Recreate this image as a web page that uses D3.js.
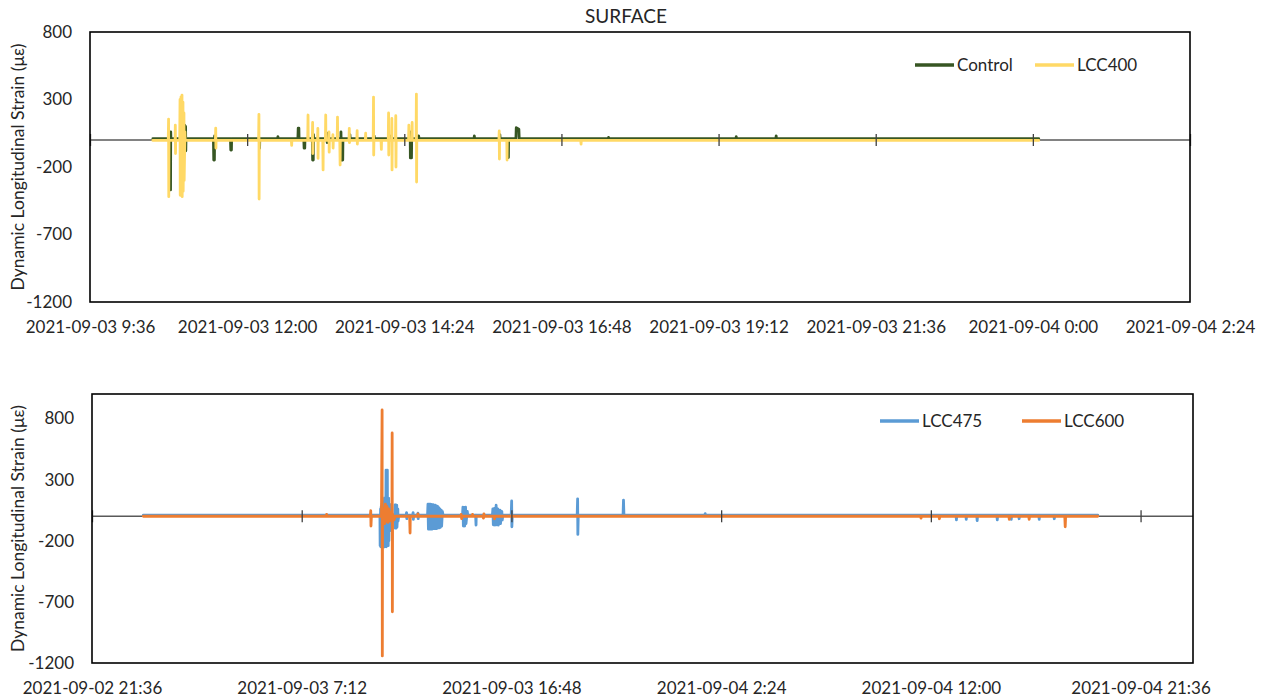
<!DOCTYPE html>
<html>
<head>
<meta charset="utf-8">
<script src="https://cdnjs.cloudflare.com/ajax/libs/d3/7.8.5/d3.min.js"></script>
<style>
    body { margin: 0; background: #fff; }
    text { font-family: Lato, "Open Sans", sans-serif; fill: #262626; }
</style>
</head>
<body>
<div id="chart-area"></div>
<script>
// time = hours after 2021-09-03 00:00, value = strain in µε

var controlData = [
    [10.56, 10], [10.825, 10], [10.83, -370], [10.833, 60], [10.836, 10],
    [11.04, 10], [11.045, 110], [11.048, -90], [11.06, 100], [11.063, -80], [11.066, 10],
    [11.485, 10], [11.49, -148], [11.50, -148], [11.503, 30], [11.506, 10],
    [11.745, 10], [11.75, -74], [11.76, -74], [11.763, 10],
    [12.185, 10], [12.19, -60], [12.193, 10],
    [12.465, 10], [12.47, 25], [12.473, 10],
    [12.775, 10], [12.78, 88], [12.79, 88], [12.793, 10],
    [12.865, 10], [12.87, -60], [12.88, -60], [12.883, 10],
    [12.995, 10], [13.00, -148], [13.01, -148], [13.013, 40], [13.016, 10],
    [13.215, 10], [13.22, 50], [13.223, -20], [13.226, 10],
    [13.425, 10], [13.43, -148], [13.433, 60], [13.44, -148], [13.46, -148], [13.463, 10],
    [13.565, 10], [13.57, 40], [13.573, 10],
    [13.935, 10], [13.94, 30], [13.943, 10],
    [14.175, 10], [14.18, 30], [14.183, 10],
    [14.485, 10], [14.49, 60], [14.493, -133], [14.51, -133], [14.513, 10],
    [14.615, 10], [14.62, 30], [14.623, 10],
    [15.465, 10], [15.47, 30], [15.473, 10],
    [15.855, 10], [15.86, 40], [15.863, 10],
    [15.975, 10], [15.98, -130], [15.99, -130], [15.993, 10],
    [16.105, 10], [16.11, 91], [16.15, 80], [16.155, 10],
    [17.515, 10], [17.52, 20], [17.523, 10],
    [19.465, 10], [19.47, 25], [19.473, 10],
    [20.075, 10], [20.08, 30], [20.083, 10],
    [24.09, 10]
];

var lcc400Data = [
    [10.56, -3], [10.795, -3], [10.80, 155], [10.803, -420], [10.806, -3],
    [10.90, -3], [10.903, 110], [10.906, -100], [10.909, -3],
    [10.97, -3], [10.975, 300], [10.978, -410], [10.99, 320], [10.993, -400],
    [11.005, 333], [11.008, -420], [11.02, 280], [11.023, -380], [11.035, 200],
    [11.038, -300], [11.05, 60], [11.053, -3],
    [11.515, -3], [11.52, 88], [11.523, -60], [11.526, -3],
    [12.175, -3], [12.18, 190], [12.183, -437], [12.186, -3],
    [12.675, -3], [12.68, -40], [12.683, -3],
    [12.925, -3], [12.93, 185], [12.933, -3],
    [12.995, -3], [13.00, 130], [13.003, -100], [13.006, -3],
    [13.075, -3], [13.08, 86], [13.083, -136], [13.086, -3],
    [13.155, -3], [13.16, -222], [13.163, -3],
    [13.195, -3], [13.20, 185], [13.203, -3],
    [13.245, -3], [13.25, 60], [13.253, -90], [13.256, -3],
    [13.305, -3], [13.31, 40], [13.313, -60], [13.316, -3],
    [13.375, -3], [13.38, 170], [13.383, -3],
    [13.415, -3], [13.42, -185], [13.423, -3],
    [13.555, -3], [13.56, 86], [13.563, -20], [13.566, -3],
    [13.675, -3], [13.68, 70], [13.683, -30], [13.686, -3],
    [13.805, -3], [13.81, 50], [13.813, -3],
    [13.925, -3], [13.93, 318], [13.933, -111], [13.936, -3],
    [14.045, -3], [14.05, -70], [14.053, -3],
    [14.155, -3], [14.16, 200], [14.163, -111], [14.166, -3],
    [14.205, -3], [14.21, 160], [14.213, -222], [14.216, -3],
    [14.265, -3], [14.27, 180], [14.273, -200], [14.276, -3],
    [14.465, -3], [14.47, 110], [14.473, -3],
    [14.515, -3], [14.52, 130], [14.523, -3],
    [14.58, -3], [14.585, 340], [14.588, -311], [14.591, -3],
    [15.845, -3], [15.85, 67], [15.853, -141], [15.856, -3],
    [15.965, -3], [15.97, -148], [15.973, -3],
    [17.095, -3], [17.10, -30], [17.103, -3],
    [24.09, -3]
];

var lcc475Data = [
    [-0.05, 10], [10.78, 10], [10.79, -240], [10.81, 60], [10.82, -250], [10.84, 80],
    [10.85, -250], [10.87, 100], [10.88, -250], [10.90, 60], [10.91, -250], [10.93, 120],
    [10.94, -250], [10.96, 100], [10.97, -250], [10.99, 150], [11.00, -250], [11.03, 150],
    [11.04, -240], [11.06, 378], [11.07, -250], [11.09, 370], [11.10, -240], [11.12, 378],
    [11.13, -230], [11.15, 148], [11.16, -240], [11.18, 148], [11.19, -200], [11.22, 100],
    [11.23, -120], [11.25, 10],
    [11.46, 10], [11.47, 92], [11.48, -97], [11.51, 92], [11.52, -97], [11.55, 90],
    [11.56, -90], [11.60, 60], [11.61, -40], [11.65, 10],
    [11.98, 10], [12.00, 30], [12.01, -20], [12.03, 10],
    [12.28, 10], [12.30, 30], [12.31, -25], [12.33, 10],
    [12.50, 10], [12.52, 25], [12.53, -20], [12.55, 10],
    [12.96, 10], [12.98, 100], [13.00, -105], [13.035, 100], [13.055, -105], [13.09, 100],
    [13.11, -105], [13.145, 95], [13.165, -105], [13.20, 95], [13.22, -100], [13.255, 90],
    [13.275, -100], [13.31, 90], [13.33, -100], [13.365, 85], [13.385, -100], [13.42, 80],
    [13.44, -95], [13.475, 70], [13.495, -95], [13.53, 60], [13.55, -90], [13.585, 50],
    [13.605, -80], [13.64, 40], [13.67, 10],
    [14.56, 10], [14.58, 75], [14.60, -80], [14.64, 70], [14.66, -80], [14.70, 75],
    [14.72, -60], [14.78, 40], [14.80, 10],
    [15.16, 10], [15.18, -72], [15.19, 10],
    [15.93, 10], [15.95, 60], [15.97, -70], [16.02, 65], [16.04, -72], [16.10, 90],
    [16.12, -70], [16.18, 60], [16.20, -72], [16.28, 50], [16.30, -60], [16.36, 40],
    [16.38, -30], [16.41, 10],
    [16.79, 10], [16.81, 125], [16.82, -86], [16.84, 10],
    [19.81, 10], [19.83, 143], [19.84, -148], [19.86, 10],
    [21.91, 10], [21.93, 132], [21.95, 10],
    [25.65, 10], [25.67, 22], [25.69, 10],
    [37.15, 10], [37.17, -30], [37.19, 10],
    [37.60, 10], [37.62, -25], [37.64, 10],
    [38.10, 10], [38.12, -35], [38.14, 10],
    [39.02, 10], [39.04, -30], [39.06, 10],
    [39.66, 10], [39.68, -25], [39.70, 10],
    [40.02, 10], [40.04, -20], [40.06, 10],
    [40.94, 10], [40.96, -25], [40.98, 10],
    [41.63, 10], [41.65, -20], [41.67, 10],
    [43.64, 10]
];

var lcc600Data = [
    [-0.05, 0], [8.32, 0], [8.34, 15], [8.36, 0],
    [10.34, 0], [10.36, 45], [10.37, -80], [10.39, 0],
    [10.85, 0], [10.88, 869], [10.89, -1142], [10.90, 30], [10.93, -50], [10.96, 60],
    [10.99, -60], [11.03, 100], [11.06, -40], [11.10, 80], [11.14, -50], [11.18, 60],
    [11.22, -40], [11.26, 30],
    [11.33, -30], [11.34, 681], [11.35, -781], [11.36, 20], [11.42, -30], [11.48, 0],
    [12.14, 0], [12.16, -137], [12.17, 0],
    [12.50, 0], [12.52, 20], [12.54, 0],
    [14.48, 0], [14.50, 15], [14.52, -20], [14.54, 0],
    [15.00, 0], [15.02, 15], [15.04, 0],
    [15.50, 0], [15.52, -15], [15.54, 20], [15.56, 0],
    [16.00, 0], [16.02, -20], [16.04, 0],
    [35.53, 0], [35.55, -15], [35.57, 0],
    [36.37, 0], [36.39, -20], [36.41, 0],
    [39.57, 0], [39.59, -25], [39.61, 0],
    [40.48, 0], [40.50, -25], [40.52, 0],
    [42.13, 0], [42.15, -86], [42.17, 0],
    [43.64, 0]
];

var yTicks = [-1200, -700, -200, 300, 800];
var topTicks = ["2021-09-03 09:36", "2021-09-03 12:00", "2021-09-03 14:24", "2021-09-03 16:48",
                "2021-09-03 19:12", "2021-09-03 21:36", "2021-09-04 00:00", "2021-09-04 02:24"];
var bottomTicks = ["2021-09-02 21:36", "2021-09-03 07:12", "2021-09-03 16:48",
                   "2021-09-04 02:24", "2021-09-04 12:00", "2021-09-04 21:36"];
var bottomEnd = "2021-09-05 00:00";

var parseTime = d3.timeParse("%Y-%m-%d %H:%M");
var formatTime = d3.timeFormat("%Y-%m-%d %-H:%M");
var base = parseTime("2021-09-03 00:00");

var svg = d3.select("#chart-area")
    .append("svg")
        .attr("width", 1268)
        .attr("height", 698);

svg.append("text")
    .attr("x", 626)
    .attr("y", 23)
    .attr("text-anchor", "middle")
    .style("font-size", "19px")
    .text("SURFACE");

drawPanel({
    left: 90, top: 32, width: 1100, height: 270,
    yDomain: [-1200, 800],
    ticks: topTicks.map(parseTime),
    xEnd: parseTime(topTicks[topTicks.length - 1]),
    series: [
        { name: "Control", data: controlData, color: "#375623", lx: 915, ly: 65 },
        { name: "LCC400", data: lcc400Data, color: "#FFD966", lx: 1035, ly: 65 }
    ]
});

drawPanel({
    left: 92, top: 394, width: 1101, height: 269,
    yDomain: [-1200, 1000],
    ticks: bottomTicks.map(parseTime),
    xEnd: parseTime(bottomEnd),
    series: [
        { name: "LCC475", data: lcc475Data, color: "#5B9BD5", lx: 880, ly: 421 },
        { name: "LCC600", data: lcc600Data, color: "#ED7D31", lx: 1022, ly: 421 }
    ]
});

function drawPanel(p){
    var g = svg.append("g")
        .attr("transform", "translate(" + p.left + "," + p.top + ")");

    var x = d3.scaleTime()
        .domain([p.ticks[0], p.xEnd])
        .range([0, p.width]);

    var y = d3.scaleLinear()
        .domain(p.yDomain)
        .range([p.height, 0]);

    // y labels (plain hyphen minus, no thousands comma)
    var yAxis = g.append("g")
        .call(d3.axisLeft(y).tickValues(yTicks).tickSize(0).tickPadding(18)
            .tickFormat(function(d){ return String(d); }));
    yAxis.select(".domain").remove();
    yAxis.selectAll("text").style("font-size", "17px").attr("fill", "#262626");

    // x labels along the bottom
    var xLabels = g.append("g")
        .attr("transform", "translate(0," + p.height + ")")
        .call(d3.axisBottom(x).tickValues(p.ticks).tickFormat(formatTime).tickSize(0).tickPadding(19));
    xLabels.select(".domain").remove();
    xLabels.selectAll("text").style("font-size", "17px").attr("fill", "#262626");

    g.append("text")
        .attr("transform", "rotate(-90)")
        .attr("x", -p.height / 2)
        .attr("y", 18 - p.left + 6)
        .attr("text-anchor", "middle")
        .style("font-size", "17.5px")
        .text("Dynamic Longitudinal Strain (με)");

    // horizontal axis line at zero
    g.append("line")
        .attr("x1", 0)
        .attr("x2", p.width)
        .attr("y1", y(0))
        .attr("y2", y(0))
        .attr("stroke", "#595959")
        .attr("stroke-width", 1.5);

    var line = d3.line()
        .x(function(d){ return x(new Date(base.getTime() + d[0] * 3600000)); })
        .y(function(d){ return y(d[1]); });

    p.series.forEach(function(s){
        g.append("path")
            .datum(s.data)
            .attr("fill", "none")
            .attr("stroke", s.color)
            .attr("stroke-width", 2.8)
            .attr("stroke-linejoin", "round")
            .attr("stroke-linecap", "round")
            .attr("d", line);

        svg.append("line")
            .attr("x1", s.lx)
            .attr("x2", s.lx + 39)
            .attr("y1", s.ly)
            .attr("y2", s.ly)
            .attr("stroke", s.color)
            .attr("stroke-width", 3.5);

        svg.append("text")
            .attr("x", s.lx + 42)
            .attr("y", s.ly + 6)
            .style("font-size", "17px")
            .text(s.name);
    });

    // cross tick marks on the zero line
    var ticks = g.append("g")
        .attr("transform", "translate(0," + (y(0) - 6) + ")")
        .call(d3.axisBottom(x).tickValues(p.ticks).tickSize(12).tickFormat(""));
    ticks.select(".domain").remove();
    ticks.selectAll("line").attr("stroke", "#404040").attr("stroke-width", 1.3);

    // plot box
    g.append("rect")
        .attr("width", p.width)
        .attr("height", p.height)
        .attr("fill", "none")
        .attr("stroke", "#000")
        .attr("stroke-width", 1.6);
}
</script>
</body>
</html>
